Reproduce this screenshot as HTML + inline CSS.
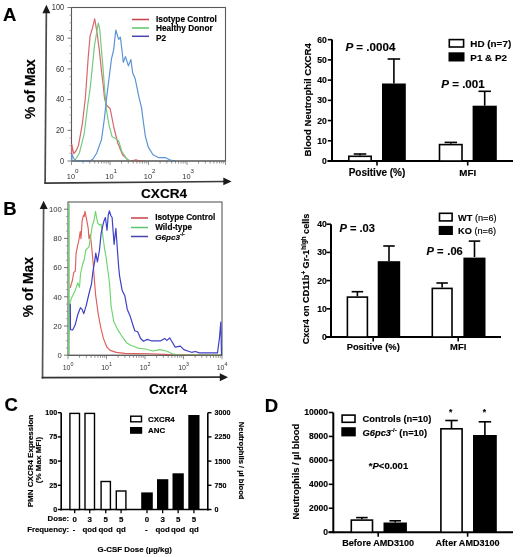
<!DOCTYPE html>
<html><head><meta charset="utf-8"><style>
html,body{margin:0;padding:0;background:#fff;}
svg{display:block;filter:blur(0.3px);}
text{font-family:"Liberation Sans", sans-serif;stroke-width:0.15px;}
</style></head><body>
<svg width="520" height="557" viewBox="0 0 520 557">
<rect width="520" height="557" fill="#fff"/>
<text x="3" y="21.3" font-size="18.5" font-weight="bold" text-anchor="start" fill="#000" stroke="#000">A</text>
<text x="3.3" y="215.3" font-size="18.5" font-weight="bold" text-anchor="start" fill="#000" stroke="#000">B</text>
<text x="4.6" y="411" font-size="18.5" font-weight="bold" text-anchor="start" fill="#000" stroke="#000">C</text>
<text x="264.8" y="411.5" font-size="18.5" font-weight="bold" text-anchor="start" fill="#000" stroke="#000">D</text>
<rect x="71.5" y="7.5" width="154" height="153.5" fill="none" stroke="#5a5a5a" stroke-width="1.1"/>
<line x1="45.1" y1="183.8" x2="46.35" y2="12" stroke="#4a4a4a" stroke-width="1.7" stroke-linecap="butt"/>
<polygon points="46.4,4.8 42.4,13.2 50.4,13.2" fill="#1a1a1a"/>
<line x1="44.3" y1="183.1" x2="225" y2="181.5" stroke="#3a3a3a" stroke-width="1.7" stroke-linecap="butt"/>
<polygon points="231.6,181.4 223.3,177.5 223.3,185.3" fill="#1a1a1a"/>
<line x1="67.5" y1="7.5" x2="71.5" y2="7.5" stroke="#666" stroke-width="0.9" stroke-linecap="butt"/>
<text stroke="none" transform="translate(64.2 10.20) scale(0.86 1)" x="0" y="0" font-size="8.6" text-anchor="end" fill="#333">100</text>
<line x1="69.5" y1="15.175" x2="71.5" y2="15.175" stroke="#888" stroke-width="0.7" stroke-linecap="butt"/>
<line x1="69.5" y1="22.85" x2="71.5" y2="22.85" stroke="#888" stroke-width="0.7" stroke-linecap="butt"/>
<line x1="69.5" y1="30.525" x2="71.5" y2="30.525" stroke="#888" stroke-width="0.7" stroke-linecap="butt"/>
<line x1="67.5" y1="38.2" x2="71.5" y2="38.2" stroke="#666" stroke-width="0.9" stroke-linecap="butt"/>
<text stroke="none" transform="translate(64.2 40.90) scale(0.86 1)" x="0" y="0" font-size="8.6" text-anchor="end" fill="#333">80</text>
<line x1="69.5" y1="45.875" x2="71.5" y2="45.875" stroke="#888" stroke-width="0.7" stroke-linecap="butt"/>
<line x1="69.5" y1="53.550000000000004" x2="71.5" y2="53.550000000000004" stroke="#888" stroke-width="0.7" stroke-linecap="butt"/>
<line x1="69.5" y1="61.225" x2="71.5" y2="61.225" stroke="#888" stroke-width="0.7" stroke-linecap="butt"/>
<line x1="67.5" y1="68.9" x2="71.5" y2="68.9" stroke="#666" stroke-width="0.9" stroke-linecap="butt"/>
<text stroke="none" transform="translate(64.2 71.60) scale(0.86 1)" x="0" y="0" font-size="8.6" text-anchor="end" fill="#333">60</text>
<line x1="69.5" y1="76.575" x2="71.5" y2="76.575" stroke="#888" stroke-width="0.7" stroke-linecap="butt"/>
<line x1="69.5" y1="84.25" x2="71.5" y2="84.25" stroke="#888" stroke-width="0.7" stroke-linecap="butt"/>
<line x1="69.5" y1="91.92500000000001" x2="71.5" y2="91.92500000000001" stroke="#888" stroke-width="0.7" stroke-linecap="butt"/>
<line x1="67.5" y1="99.6" x2="71.5" y2="99.6" stroke="#666" stroke-width="0.9" stroke-linecap="butt"/>
<text stroke="none" transform="translate(64.2 102.30) scale(0.86 1)" x="0" y="0" font-size="8.6" text-anchor="end" fill="#333">40</text>
<line x1="69.5" y1="107.27499999999999" x2="71.5" y2="107.27499999999999" stroke="#888" stroke-width="0.7" stroke-linecap="butt"/>
<line x1="69.5" y1="114.94999999999999" x2="71.5" y2="114.94999999999999" stroke="#888" stroke-width="0.7" stroke-linecap="butt"/>
<line x1="69.5" y1="122.625" x2="71.5" y2="122.625" stroke="#888" stroke-width="0.7" stroke-linecap="butt"/>
<line x1="67.5" y1="130.3" x2="71.5" y2="130.3" stroke="#666" stroke-width="0.9" stroke-linecap="butt"/>
<text stroke="none" transform="translate(64.2 133.00) scale(0.86 1)" x="0" y="0" font-size="8.6" text-anchor="end" fill="#333">20</text>
<line x1="69.5" y1="137.97500000000002" x2="71.5" y2="137.97500000000002" stroke="#888" stroke-width="0.7" stroke-linecap="butt"/>
<line x1="69.5" y1="145.65" x2="71.5" y2="145.65" stroke="#888" stroke-width="0.7" stroke-linecap="butt"/>
<line x1="69.5" y1="153.32500000000002" x2="71.5" y2="153.32500000000002" stroke="#888" stroke-width="0.7" stroke-linecap="butt"/>
<line x1="67.5" y1="161.0" x2="71.5" y2="161.0" stroke="#666" stroke-width="0.9" stroke-linecap="butt"/>
<text stroke="none" transform="translate(64.2 163.70) scale(0.86 1)" x="0" y="0" font-size="8.6" text-anchor="end" fill="#333">0</text>
<line x1="71.5" y1="161" x2="71.5" y2="165" stroke="#777" stroke-width="0.8" stroke-linecap="butt"/>
<line x1="83.08965483306328" y1="161" x2="83.08965483306328" y2="163.5" stroke="#777" stroke-width="0.8" stroke-linecap="butt"/>
<line x1="89.869168306707" y1="161" x2="89.869168306707" y2="163.5" stroke="#777" stroke-width="0.8" stroke-linecap="butt"/>
<line x1="94.67930966612656" y1="161" x2="94.67930966612656" y2="163.5" stroke="#777" stroke-width="0.8" stroke-linecap="butt"/>
<line x1="98.41034516693672" y1="161" x2="98.41034516693672" y2="163.5" stroke="#777" stroke-width="0.8" stroke-linecap="butt"/>
<line x1="101.45882313977029" y1="161" x2="101.45882313977029" y2="163.5" stroke="#777" stroke-width="0.8" stroke-linecap="butt"/>
<line x1="104.03627454054889" y1="161" x2="104.03627454054889" y2="163.5" stroke="#777" stroke-width="0.8" stroke-linecap="butt"/>
<line x1="106.26896449918982" y1="161" x2="106.26896449918982" y2="163.5" stroke="#777" stroke-width="0.8" stroke-linecap="butt"/>
<line x1="108.238336613414" y1="161" x2="108.238336613414" y2="163.5" stroke="#777" stroke-width="0.8" stroke-linecap="butt"/>
<line x1="110.0" y1="161" x2="110.0" y2="165" stroke="#777" stroke-width="0.8" stroke-linecap="butt"/>
<line x1="121.58965483306328" y1="161" x2="121.58965483306328" y2="163.5" stroke="#777" stroke-width="0.8" stroke-linecap="butt"/>
<line x1="128.369168306707" y1="161" x2="128.369168306707" y2="163.5" stroke="#777" stroke-width="0.8" stroke-linecap="butt"/>
<line x1="133.17930966612656" y1="161" x2="133.17930966612656" y2="163.5" stroke="#777" stroke-width="0.8" stroke-linecap="butt"/>
<line x1="136.91034516693674" y1="161" x2="136.91034516693674" y2="163.5" stroke="#777" stroke-width="0.8" stroke-linecap="butt"/>
<line x1="139.9588231397703" y1="161" x2="139.9588231397703" y2="163.5" stroke="#777" stroke-width="0.8" stroke-linecap="butt"/>
<line x1="142.5362745405489" y1="161" x2="142.5362745405489" y2="163.5" stroke="#777" stroke-width="0.8" stroke-linecap="butt"/>
<line x1="144.76896449918982" y1="161" x2="144.76896449918982" y2="163.5" stroke="#777" stroke-width="0.8" stroke-linecap="butt"/>
<line x1="146.738336613414" y1="161" x2="146.738336613414" y2="163.5" stroke="#777" stroke-width="0.8" stroke-linecap="butt"/>
<line x1="148.5" y1="161" x2="148.5" y2="165" stroke="#777" stroke-width="0.8" stroke-linecap="butt"/>
<line x1="160.08965483306326" y1="161" x2="160.08965483306326" y2="163.5" stroke="#777" stroke-width="0.8" stroke-linecap="butt"/>
<line x1="166.86916830670702" y1="161" x2="166.86916830670702" y2="163.5" stroke="#777" stroke-width="0.8" stroke-linecap="butt"/>
<line x1="171.67930966612656" y1="161" x2="171.67930966612656" y2="163.5" stroke="#777" stroke-width="0.8" stroke-linecap="butt"/>
<line x1="175.41034516693674" y1="161" x2="175.41034516693674" y2="163.5" stroke="#777" stroke-width="0.8" stroke-linecap="butt"/>
<line x1="178.4588231397703" y1="161" x2="178.4588231397703" y2="163.5" stroke="#777" stroke-width="0.8" stroke-linecap="butt"/>
<line x1="181.0362745405489" y1="161" x2="181.0362745405489" y2="163.5" stroke="#777" stroke-width="0.8" stroke-linecap="butt"/>
<line x1="183.26896449918985" y1="161" x2="183.26896449918985" y2="163.5" stroke="#777" stroke-width="0.8" stroke-linecap="butt"/>
<line x1="185.238336613414" y1="161" x2="185.238336613414" y2="163.5" stroke="#777" stroke-width="0.8" stroke-linecap="butt"/>
<line x1="187.0" y1="161" x2="187.0" y2="165" stroke="#777" stroke-width="0.8" stroke-linecap="butt"/>
<line x1="198.58965483306326" y1="161" x2="198.58965483306326" y2="163.5" stroke="#777" stroke-width="0.8" stroke-linecap="butt"/>
<line x1="205.36916830670702" y1="161" x2="205.36916830670702" y2="163.5" stroke="#777" stroke-width="0.8" stroke-linecap="butt"/>
<line x1="210.17930966612656" y1="161" x2="210.17930966612656" y2="163.5" stroke="#777" stroke-width="0.8" stroke-linecap="butt"/>
<line x1="213.91034516693674" y1="161" x2="213.91034516693674" y2="163.5" stroke="#777" stroke-width="0.8" stroke-linecap="butt"/>
<line x1="216.9588231397703" y1="161" x2="216.9588231397703" y2="163.5" stroke="#777" stroke-width="0.8" stroke-linecap="butt"/>
<line x1="219.5362745405489" y1="161" x2="219.5362745405489" y2="163.5" stroke="#777" stroke-width="0.8" stroke-linecap="butt"/>
<line x1="221.76896449918985" y1="161" x2="221.76896449918985" y2="163.5" stroke="#777" stroke-width="0.8" stroke-linecap="butt"/>
<line x1="223.738336613414" y1="161" x2="223.738336613414" y2="163.5" stroke="#777" stroke-width="0.8" stroke-linecap="butt"/>
<line x1="225.5" y1="161" x2="225.5" y2="165" stroke="#777" stroke-width="0.8" stroke-linecap="butt"/>
<text stroke="none" x="66.8" y="178.6" font-size="7.4" fill="#333">10<tspan dy="-5.2" font-size="6.2">0</tspan></text>
<text stroke="none" x="105.3" y="178.6" font-size="7.4" fill="#333">10<tspan dy="-5.2" font-size="6.2">1</tspan></text>
<text stroke="none" x="143.8" y="178.6" font-size="7.4" fill="#333">10<tspan dy="-5.2" font-size="6.2">2</tspan></text>
<text stroke="none" x="182.3" y="178.6" font-size="7.4" fill="#333">10<tspan dy="-5.2" font-size="6.2">3</tspan></text>
<text x="141" y="198.2" font-size="13.6" font-weight="bold" text-anchor="start" fill="#000" stroke="#000">CXCR4</text>
<text x="35.2" y="89.1" font-size="13.8" font-weight="bold" text-anchor="middle" fill="#000" stroke="#000" transform="rotate(-90 35.2 89.1)">% of Max</text>
<line x1="132" y1="19.5" x2="149" y2="19.5" stroke="#c8404a" stroke-width="1.5" stroke-linecap="butt"/>
<line x1="132" y1="28" x2="149" y2="28" stroke="#5cc46c" stroke-width="1.5" stroke-linecap="butt"/>
<line x1="132" y1="36.3" x2="149" y2="36.3" stroke="#4444aa" stroke-width="1.5" stroke-linecap="butt"/>
<text x="156" y="21.6" font-size="8.3" font-weight="bold" text-anchor="start" fill="#000" stroke="#000">Isotype Control</text>
<text x="156" y="31.0" font-size="8.3" font-weight="bold" text-anchor="start" fill="#000" stroke="#000">Healthy Donor</text>
<text x="156" y="40.7" font-size="8.3" font-weight="bold" text-anchor="start" fill="#000" stroke="#000">P2</text>
<polyline points="71.7,161.0 71.8,144.4 73.7,153.7 76.0,151.0 78.5,145.4 82.3,124.2 85.2,99.2 86.0,89.0 88.2,57.5 90.1,35.9 92.3,28.7 94.7,18.9 95.9,25.8 97.3,34.5 99.5,51.7 101.6,71.9 103.3,86.0 104.5,98.0 106.3,105.0 110.2,108.8 114.0,128.0 117.9,143.5 122.7,155.0 128.5,160.4 133.0,160.6 136.0,159.8 139.0,160.8 145.0,161.0" fill="none" stroke="#d9666c" stroke-width="1.2" stroke-linejoin="round" stroke-linecap="round"/>
<polyline points="74.6,161.0 79.4,153.0 84.2,133.8 88.0,103.0 90.1,89.1 92.3,67.6 94.4,46.0 96.6,33.0 98.3,23.0 99.7,28.7 100.9,43.1 103.0,67.6 104.3,85.0 106.3,108.8 109.2,126.0 112.1,136.7 116.0,138.7 118.8,141.5 121.7,151.0 126.5,158.8 130.4,161.0" fill="none" stroke="#74cc80" stroke-width="1.2" stroke-linejoin="round" stroke-linecap="round"/>
<polyline points="71.6,161.0 71.8,154.0 73.5,158.0 75.6,161.0 90.0,161.0 93.0,159.0 96.7,153.0 101.5,139.6 104.4,118.5 106.5,99.0 108.6,81.7 111.5,58.8 113.6,50.1 115.8,30.0 118.7,39.4 120.4,37.2 121.8,48.7 123.3,62.3 125.5,56.6 128.4,65.9 130.9,59.5 132.7,73.1 135.2,78.8 139.0,97.3 141.5,107.7 143.5,123.0 145.4,136.5 148.3,147.1 153.0,154.8 158.8,157.7 165.6,157.7 170.4,160.0 175.2,161.0" fill="none" stroke="#5a94d6" stroke-width="1.2" stroke-linejoin="round" stroke-linecap="round"/>
<line x1="71.5" y1="161" x2="225.5" y2="161" stroke="#5a5a5a" stroke-width="1.0" stroke-linecap="butt"/>
<rect x="68" y="202" width="154" height="153.3" fill="none" stroke="#5a5a5a" stroke-width="1.1"/>
<line x1="42.5" y1="378.5" x2="43.6" y2="207" stroke="#555" stroke-width="1.7" stroke-linecap="butt"/>
<polygon points="43.6,200.8 39.7,209 47.7,209" fill="#1a1a1a"/>
<line x1="41.7" y1="377.7" x2="221" y2="377.1" stroke="#333" stroke-width="1.8" stroke-linecap="butt"/>
<polygon points="228,377.2 219.8,373.2 219.8,381.2" fill="#1a1a1a"/>
<line x1="64" y1="209.2" x2="68" y2="209.2" stroke="#666" stroke-width="0.9" stroke-linecap="butt"/>
<text x="61.8" y="211.89999999999998" font-size="7.7" font-weight="normal" text-anchor="end" fill="#333" stroke="none">100</text>
<line x1="66" y1="216.5" x2="68" y2="216.5" stroke="#888" stroke-width="0.7" stroke-linecap="butt"/>
<line x1="66" y1="223.79999999999998" x2="68" y2="223.79999999999998" stroke="#888" stroke-width="0.7" stroke-linecap="butt"/>
<line x1="66" y1="231.1" x2="68" y2="231.1" stroke="#888" stroke-width="0.7" stroke-linecap="butt"/>
<line x1="64" y1="238.39999999999998" x2="68" y2="238.39999999999998" stroke="#666" stroke-width="0.9" stroke-linecap="butt"/>
<text x="61.8" y="241.09999999999997" font-size="7.7" font-weight="normal" text-anchor="end" fill="#333" stroke="none">80</text>
<line x1="66" y1="245.7" x2="68" y2="245.7" stroke="#888" stroke-width="0.7" stroke-linecap="butt"/>
<line x1="66" y1="252.99999999999997" x2="68" y2="252.99999999999997" stroke="#888" stroke-width="0.7" stroke-linecap="butt"/>
<line x1="66" y1="260.29999999999995" x2="68" y2="260.29999999999995" stroke="#888" stroke-width="0.7" stroke-linecap="butt"/>
<line x1="64" y1="267.59999999999997" x2="68" y2="267.59999999999997" stroke="#666" stroke-width="0.9" stroke-linecap="butt"/>
<text x="61.8" y="270.29999999999995" font-size="7.7" font-weight="normal" text-anchor="end" fill="#333" stroke="none">60</text>
<line x1="66" y1="274.9" x2="68" y2="274.9" stroke="#888" stroke-width="0.7" stroke-linecap="butt"/>
<line x1="66" y1="282.2" x2="68" y2="282.2" stroke="#888" stroke-width="0.7" stroke-linecap="butt"/>
<line x1="66" y1="289.49999999999994" x2="68" y2="289.49999999999994" stroke="#888" stroke-width="0.7" stroke-linecap="butt"/>
<line x1="64" y1="296.79999999999995" x2="68" y2="296.79999999999995" stroke="#666" stroke-width="0.9" stroke-linecap="butt"/>
<text x="61.8" y="299.49999999999994" font-size="7.7" font-weight="normal" text-anchor="end" fill="#333" stroke="none">40</text>
<line x1="66" y1="304.09999999999997" x2="68" y2="304.09999999999997" stroke="#888" stroke-width="0.7" stroke-linecap="butt"/>
<line x1="66" y1="311.4" x2="68" y2="311.4" stroke="#888" stroke-width="0.7" stroke-linecap="butt"/>
<line x1="66" y1="318.69999999999993" x2="68" y2="318.69999999999993" stroke="#888" stroke-width="0.7" stroke-linecap="butt"/>
<line x1="64" y1="326.0" x2="68" y2="326.0" stroke="#666" stroke-width="0.9" stroke-linecap="butt"/>
<text x="61.8" y="328.7" font-size="7.7" font-weight="normal" text-anchor="end" fill="#333" stroke="none">20</text>
<line x1="66" y1="333.3" x2="68" y2="333.3" stroke="#888" stroke-width="0.7" stroke-linecap="butt"/>
<line x1="66" y1="340.6" x2="68" y2="340.6" stroke="#888" stroke-width="0.7" stroke-linecap="butt"/>
<line x1="66" y1="347.9" x2="68" y2="347.9" stroke="#888" stroke-width="0.7" stroke-linecap="butt"/>
<line x1="64" y1="355.2" x2="68" y2="355.2" stroke="#666" stroke-width="0.9" stroke-linecap="butt"/>
<text x="61.8" y="357.9" font-size="7.7" font-weight="normal" text-anchor="end" fill="#333" stroke="none">0</text>
<line x1="68.0" y1="355.3" x2="68.0" y2="359.3" stroke="#777" stroke-width="0.8" stroke-linecap="butt"/>
<line x1="79.58965483306328" y1="355.3" x2="79.58965483306328" y2="357.8" stroke="#777" stroke-width="0.8" stroke-linecap="butt"/>
<line x1="86.369168306707" y1="355.3" x2="86.369168306707" y2="357.8" stroke="#777" stroke-width="0.8" stroke-linecap="butt"/>
<line x1="91.17930966612656" y1="355.3" x2="91.17930966612656" y2="357.8" stroke="#777" stroke-width="0.8" stroke-linecap="butt"/>
<line x1="94.91034516693672" y1="355.3" x2="94.91034516693672" y2="357.8" stroke="#777" stroke-width="0.8" stroke-linecap="butt"/>
<line x1="97.95882313977029" y1="355.3" x2="97.95882313977029" y2="357.8" stroke="#777" stroke-width="0.8" stroke-linecap="butt"/>
<line x1="100.53627454054889" y1="355.3" x2="100.53627454054889" y2="357.8" stroke="#777" stroke-width="0.8" stroke-linecap="butt"/>
<line x1="102.76896449918982" y1="355.3" x2="102.76896449918982" y2="357.8" stroke="#777" stroke-width="0.8" stroke-linecap="butt"/>
<line x1="104.738336613414" y1="355.3" x2="104.738336613414" y2="357.8" stroke="#777" stroke-width="0.8" stroke-linecap="butt"/>
<line x1="106.5" y1="355.3" x2="106.5" y2="359.3" stroke="#777" stroke-width="0.8" stroke-linecap="butt"/>
<line x1="118.08965483306328" y1="355.3" x2="118.08965483306328" y2="357.8" stroke="#777" stroke-width="0.8" stroke-linecap="butt"/>
<line x1="124.869168306707" y1="355.3" x2="124.869168306707" y2="357.8" stroke="#777" stroke-width="0.8" stroke-linecap="butt"/>
<line x1="129.67930966612656" y1="355.3" x2="129.67930966612656" y2="357.8" stroke="#777" stroke-width="0.8" stroke-linecap="butt"/>
<line x1="133.41034516693674" y1="355.3" x2="133.41034516693674" y2="357.8" stroke="#777" stroke-width="0.8" stroke-linecap="butt"/>
<line x1="136.4588231397703" y1="355.3" x2="136.4588231397703" y2="357.8" stroke="#777" stroke-width="0.8" stroke-linecap="butt"/>
<line x1="139.0362745405489" y1="355.3" x2="139.0362745405489" y2="357.8" stroke="#777" stroke-width="0.8" stroke-linecap="butt"/>
<line x1="141.26896449918982" y1="355.3" x2="141.26896449918982" y2="357.8" stroke="#777" stroke-width="0.8" stroke-linecap="butt"/>
<line x1="143.238336613414" y1="355.3" x2="143.238336613414" y2="357.8" stroke="#777" stroke-width="0.8" stroke-linecap="butt"/>
<line x1="145.0" y1="355.3" x2="145.0" y2="359.3" stroke="#777" stroke-width="0.8" stroke-linecap="butt"/>
<line x1="156.58965483306326" y1="355.3" x2="156.58965483306326" y2="357.8" stroke="#777" stroke-width="0.8" stroke-linecap="butt"/>
<line x1="163.36916830670702" y1="355.3" x2="163.36916830670702" y2="357.8" stroke="#777" stroke-width="0.8" stroke-linecap="butt"/>
<line x1="168.17930966612656" y1="355.3" x2="168.17930966612656" y2="357.8" stroke="#777" stroke-width="0.8" stroke-linecap="butt"/>
<line x1="171.91034516693674" y1="355.3" x2="171.91034516693674" y2="357.8" stroke="#777" stroke-width="0.8" stroke-linecap="butt"/>
<line x1="174.9588231397703" y1="355.3" x2="174.9588231397703" y2="357.8" stroke="#777" stroke-width="0.8" stroke-linecap="butt"/>
<line x1="177.5362745405489" y1="355.3" x2="177.5362745405489" y2="357.8" stroke="#777" stroke-width="0.8" stroke-linecap="butt"/>
<line x1="179.76896449918985" y1="355.3" x2="179.76896449918985" y2="357.8" stroke="#777" stroke-width="0.8" stroke-linecap="butt"/>
<line x1="181.738336613414" y1="355.3" x2="181.738336613414" y2="357.8" stroke="#777" stroke-width="0.8" stroke-linecap="butt"/>
<line x1="183.5" y1="355.3" x2="183.5" y2="359.3" stroke="#777" stroke-width="0.8" stroke-linecap="butt"/>
<line x1="195.08965483306326" y1="355.3" x2="195.08965483306326" y2="357.8" stroke="#777" stroke-width="0.8" stroke-linecap="butt"/>
<line x1="201.86916830670702" y1="355.3" x2="201.86916830670702" y2="357.8" stroke="#777" stroke-width="0.8" stroke-linecap="butt"/>
<line x1="206.67930966612656" y1="355.3" x2="206.67930966612656" y2="357.8" stroke="#777" stroke-width="0.8" stroke-linecap="butt"/>
<line x1="210.41034516693674" y1="355.3" x2="210.41034516693674" y2="357.8" stroke="#777" stroke-width="0.8" stroke-linecap="butt"/>
<line x1="213.4588231397703" y1="355.3" x2="213.4588231397703" y2="357.8" stroke="#777" stroke-width="0.8" stroke-linecap="butt"/>
<line x1="216.0362745405489" y1="355.3" x2="216.0362745405489" y2="357.8" stroke="#777" stroke-width="0.8" stroke-linecap="butt"/>
<line x1="218.26896449918985" y1="355.3" x2="218.26896449918985" y2="357.8" stroke="#777" stroke-width="0.8" stroke-linecap="butt"/>
<line x1="220.238336613414" y1="355.3" x2="220.238336613414" y2="357.8" stroke="#777" stroke-width="0.8" stroke-linecap="butt"/>
<line x1="222.0" y1="355.3" x2="222.0" y2="359.3" stroke="#777" stroke-width="0.8" stroke-linecap="butt"/>
<text stroke="none" x="62.7" y="370.3" font-size="7.0" fill="#333">10<tspan dy="-4.4" font-size="5.3">0</tspan></text>
<text stroke="none" x="101.2" y="370.3" font-size="7.0" fill="#333">10<tspan dy="-4.4" font-size="5.3">1</tspan></text>
<text stroke="none" x="139.7" y="370.3" font-size="7.0" fill="#333">10<tspan dy="-4.4" font-size="5.3">2</tspan></text>
<text stroke="none" x="178.2" y="370.3" font-size="7.0" fill="#333">10<tspan dy="-4.4" font-size="5.3">3</tspan></text>
<text stroke="none" x="216.7" y="370.3" font-size="7.0" fill="#333">10<tspan dy="-4.4" font-size="5.3">4</tspan></text>
<text x="148.9" y="394.0" font-size="13.8" font-weight="bold" text-anchor="start" fill="#000" stroke="#000">Cxcr4</text>
<text x="32.8" y="287.1" font-size="13.9" font-weight="bold" text-anchor="middle" fill="#000" stroke="#000" transform="rotate(-90 32.8 287.1)">% of Max</text>
<line x1="131" y1="218" x2="148" y2="218" stroke="#c8404a" stroke-width="1.5" stroke-linecap="butt"/>
<line x1="131" y1="227.5" x2="148" y2="227.5" stroke="#5cc46c" stroke-width="1.5" stroke-linecap="butt"/>
<line x1="131" y1="236.5" x2="148" y2="236.5" stroke="#4444aa" stroke-width="1.5" stroke-linecap="butt"/>
<text x="155.2" y="220.4" font-size="8.2" font-weight="bold" text-anchor="start" fill="#000" stroke="#000">Isotype Control</text>
<text x="155.2" y="230.0" font-size="8.2" font-weight="bold" text-anchor="start" fill="#000" stroke="#000">Wild-type</text>
<text stroke="#000" x="155.2" y="239.6" font-size="8.1" font-weight="bold" font-style="italic">G6pc3<tspan dy="-3.2" font-size="5.2" font-style="normal">-/-</tspan></text>
<polyline points="70.3,287.5 72.5,280.0 73.7,272.6 75.3,271.0 76.1,253.2 77.4,246.8 79.0,239.5 80.2,231.5 81.0,238.7 82.1,221.0 83.4,215.3 84.2,216.5 85.0,211.3 86.6,219.4 88.2,228.2 89.0,238.7 90.3,234.7 91.5,245.2 93.0,261.3 94.7,283.9 95.7,295.7 98.3,314.5 100.9,328.2 103.4,338.4 106.8,347.0 110.2,350.4 116.2,352.4 124.8,353.4 135.0,353.6 150.0,353.8 170.0,354.6 221.0,355.0" fill="none" stroke="#de5e5e" stroke-width="1.15" stroke-linejoin="round" stroke-linecap="round"/>
<polyline points="69.2,204.0 69.2,355.0 69.5,304.0 71.8,297.4 75.2,290.6 77.8,282.9 79.5,287.2 80.5,274.0 82.6,264.5 84.2,259.7 85.8,250.0 87.4,248.4 89.0,246.8 90.6,237.0 92.3,225.8 93.9,221.0 95.5,211.3 96.6,217.5 97.7,222.9 99.3,224.9 101.1,224.2 102.7,235.0 104.7,249.8 106.0,256.5 107.8,270.0 109.4,282.1 111.1,306.0 113.7,321.3 117.9,329.9 122.2,336.7 126.5,342.7 130.7,345.2 133.8,346.2 137.7,348.1 145.4,349.0 153.0,351.0 159.8,349.6 166.5,351.0 172.3,353.8 178.0,354.8 221.0,355.0" fill="none" stroke="#6cd66c" stroke-width="1.15" stroke-linejoin="round" stroke-linecap="round"/>
<polyline points="70.3,304.0 70.5,329.7 72.7,329.9 75.2,324.8 77.8,314.5 80.4,307.7 82.1,309.4 83.8,313.7 86.3,305.1 88.9,294.0 91.5,283.8 93.0,271.0 94.7,261.3 95.8,253.2 97.4,262.0 99.5,250.0 101.1,233.6 102.7,226.2 104.0,220.9 105.4,217.5 107.0,230.3 108.3,214.8 109.4,210.8 110.8,215.5 112.1,217.5 114.1,244.4 115.9,228.3 117.5,251.1 118.8,268.6 119.6,276.1 122.2,290.6 124.8,295.7 127.3,309.4 129.9,315.4 132.9,325.0 134.8,330.8 137.7,331.7 140.6,338.5 143.5,341.3 147.3,339.4 151.2,340.8 155.0,340.8 160.8,340.8 164.6,338.5 166.9,340.4 169.8,338.0 172.3,342.3 175.2,347.1 180.4,346.2 183.8,349.6 187.7,351.0 191.5,352.3 195.4,351.5 199.2,352.9 217.5,352.9 219.4,338.5 220.8,322.1 221.5,354.8" fill="none" stroke="#4040c8" stroke-width="1.2" stroke-linejoin="round" stroke-linecap="round"/>
<line x1="68" y1="355.3" x2="222" y2="355.3" stroke="#5a5a5a" stroke-width="1.0" stroke-linecap="butt"/>
<line x1="332" y1="39.5" x2="332" y2="162" stroke="#000" stroke-width="2" stroke-linecap="butt"/>
<line x1="327.8" y1="161.0" x2="332" y2="161.0" stroke="#000" stroke-width="1.6" stroke-linecap="butt"/>
<text x="326.8" y="164.1" font-size="8.6" font-weight="bold" text-anchor="end" fill="#000" stroke="#000">0</text>
<line x1="327.8" y1="140.78" x2="332" y2="140.78" stroke="#000" stroke-width="1.6" stroke-linecap="butt"/>
<text x="326.8" y="143.88" font-size="8.6" font-weight="bold" text-anchor="end" fill="#000" stroke="#000">10</text>
<line x1="327.8" y1="120.56" x2="332" y2="120.56" stroke="#000" stroke-width="1.6" stroke-linecap="butt"/>
<text x="326.8" y="123.66" font-size="8.6" font-weight="bold" text-anchor="end" fill="#000" stroke="#000">20</text>
<line x1="327.8" y1="100.34" x2="332" y2="100.34" stroke="#000" stroke-width="1.6" stroke-linecap="butt"/>
<text x="326.8" y="103.44" font-size="8.6" font-weight="bold" text-anchor="end" fill="#000" stroke="#000">30</text>
<line x1="327.8" y1="80.12" x2="332" y2="80.12" stroke="#000" stroke-width="1.6" stroke-linecap="butt"/>
<text x="326.8" y="83.22" font-size="8.6" font-weight="bold" text-anchor="end" fill="#000" stroke="#000">40</text>
<line x1="327.8" y1="59.900000000000006" x2="332" y2="59.900000000000006" stroke="#000" stroke-width="1.6" stroke-linecap="butt"/>
<text x="326.8" y="63.00000000000001" font-size="8.6" font-weight="bold" text-anchor="end" fill="#000" stroke="#000">50</text>
<line x1="327.8" y1="39.68000000000001" x2="332" y2="39.68000000000001" stroke="#000" stroke-width="1.6" stroke-linecap="butt"/>
<text x="326.8" y="42.78000000000001" font-size="8.6" font-weight="bold" text-anchor="end" fill="#000" stroke="#000">60</text>
<line x1="327.5" y1="161" x2="513" y2="161" stroke="#000" stroke-width="2" stroke-linecap="butt"/>
<line x1="377" y1="161" x2="377" y2="165.5" stroke="#000" stroke-width="1.6" stroke-linecap="butt"/>
<line x1="467.7" y1="161" x2="467.7" y2="165.5" stroke="#000" stroke-width="1.6" stroke-linecap="butt"/>
<line x1="360" y1="155.5" x2="360" y2="154.0" stroke="#000" stroke-width="1.6" stroke-linecap="butt"/>
<line x1="353.75" y1="154.0" x2="366.25" y2="154.0" stroke="#000" stroke-width="1.6" stroke-linecap="butt"/>
<rect x="348.8" y="156.3" width="22.4" height="4.7" fill="#fff" stroke="#000" stroke-width="1.6"/>
<line x1="393.9" y1="83.5" x2="393.9" y2="59" stroke="#000" stroke-width="1.6" stroke-linecap="butt"/>
<line x1="387.65" y1="59" x2="400.15" y2="59" stroke="#000" stroke-width="1.6" stroke-linecap="butt"/>
<rect x="382" y="83.5" width="23.80000000000001" height="77.5" fill="#000" stroke="none" stroke-width="1"/>
<line x1="450.8" y1="143.8" x2="450.8" y2="142.4" stroke="#000" stroke-width="1.6" stroke-linecap="butt"/>
<line x1="444.55" y1="142.4" x2="457.05" y2="142.4" stroke="#000" stroke-width="1.6" stroke-linecap="butt"/>
<rect x="439.5" y="144.60000000000002" width="22.50000000000002" height="16.399999999999988" fill="#fff" stroke="#000" stroke-width="1.6"/>
<line x1="484.7" y1="105.7" x2="484.7" y2="91.3" stroke="#000" stroke-width="1.6" stroke-linecap="butt"/>
<line x1="478.45" y1="91.3" x2="490.95" y2="91.3" stroke="#000" stroke-width="1.6" stroke-linecap="butt"/>
<rect x="472.6" y="105.7" width="24.19999999999999" height="55.3" fill="#000" stroke="none" stroke-width="1"/>
<text stroke="#000" x="345.4" y="51.2" font-size="11.6" font-weight="bold"><tspan font-style="italic">P</tspan> = .0004</text>
<text stroke="#000" x="441.2" y="87.9" font-size="11.6" font-weight="bold"><tspan font-style="italic">P</tspan> = .001</text>
<rect x="449.3" y="39.6" width="14.3" height="7.4" fill="#fff" stroke="#000" stroke-width="1.6"/>
<rect x="448.5" y="52.3" width="16" height="9.2" fill="#000" stroke="none" stroke-width="1"/>
<text x="470.3" y="47.3" font-size="9.9" font-weight="bold" text-anchor="start" fill="#000" stroke="#000">HD (n=7)</text>
<text x="470.3" y="60.5" font-size="9.9" font-weight="bold" text-anchor="start" fill="#000" stroke="#000">P1 &amp; P2</text>
<text x="377" y="175.6" font-size="10" font-weight="bold" text-anchor="middle" fill="#000" stroke="#000">Positive (%)</text>
<text x="467.7" y="175.6" font-size="9.8" font-weight="bold" text-anchor="middle" fill="#000" stroke="#000">MFI</text>
<text x="310.7" y="99.8" font-size="9.65" font-weight="bold" text-anchor="middle" fill="#000" stroke="#000" transform="rotate(-90 310.7 99.8)">Blood Neutrophil CXCR4</text>
<line x1="331" y1="224.2" x2="331" y2="338" stroke="#000" stroke-width="2" stroke-linecap="butt"/>
<line x1="326.5" y1="337.0" x2="331" y2="337.0" stroke="#000" stroke-width="1.6" stroke-linecap="butt"/>
<text x="326.7" y="340.0" font-size="8.6" font-weight="bold" text-anchor="end" fill="#000" stroke="#000">0</text>
<line x1="326.5" y1="308.8" x2="331" y2="308.8" stroke="#000" stroke-width="1.6" stroke-linecap="butt"/>
<text x="326.7" y="311.8" font-size="8.6" font-weight="bold" text-anchor="end" fill="#000" stroke="#000">10</text>
<line x1="326.5" y1="280.6" x2="331" y2="280.6" stroke="#000" stroke-width="1.6" stroke-linecap="butt"/>
<text x="326.7" y="283.6" font-size="8.6" font-weight="bold" text-anchor="end" fill="#000" stroke="#000">20</text>
<line x1="326.5" y1="252.4" x2="331" y2="252.4" stroke="#000" stroke-width="1.6" stroke-linecap="butt"/>
<text x="326.7" y="255.4" font-size="8.6" font-weight="bold" text-anchor="end" fill="#000" stroke="#000">30</text>
<line x1="326.5" y1="224.2" x2="331" y2="224.2" stroke="#000" stroke-width="1.6" stroke-linecap="butt"/>
<text x="326.7" y="227.2" font-size="8.6" font-weight="bold" text-anchor="end" fill="#000" stroke="#000">40</text>
<line x1="326" y1="337" x2="501" y2="337" stroke="#000" stroke-width="2" stroke-linecap="butt"/>
<line x1="373.2" y1="337" x2="373.2" y2="341.5" stroke="#000" stroke-width="1.6" stroke-linecap="butt"/>
<line x1="458.2" y1="337" x2="458.2" y2="341.5" stroke="#000" stroke-width="1.6" stroke-linecap="butt"/>
<line x1="357.4" y1="296.3" x2="357.4" y2="291.7" stroke="#000" stroke-width="1.6" stroke-linecap="butt"/>
<line x1="351.65" y1="291.7" x2="363.15" y2="291.7" stroke="#000" stroke-width="1.6" stroke-linecap="butt"/>
<rect x="347.40000000000003" y="297.1" width="19.999999999999964" height="39.89999999999999" fill="#fff" stroke="#000" stroke-width="1.6"/>
<line x1="389" y1="261.2" x2="389" y2="246" stroke="#000" stroke-width="1.6" stroke-linecap="butt"/>
<line x1="383.25" y1="246" x2="394.75" y2="246" stroke="#000" stroke-width="1.6" stroke-linecap="butt"/>
<rect x="377.7" y="261.2" width="22.5" height="75.80000000000001" fill="#000" stroke="none" stroke-width="1"/>
<line x1="442.1" y1="287.6" x2="442.1" y2="283" stroke="#000" stroke-width="1.6" stroke-linecap="butt"/>
<line x1="436.35" y1="283" x2="447.85" y2="283" stroke="#000" stroke-width="1.6" stroke-linecap="butt"/>
<rect x="432.3" y="288.40000000000003" width="19.70000000000001" height="48.59999999999998" fill="#fff" stroke="#000" stroke-width="1.6"/>
<line x1="474.5" y1="257" x2="474.5" y2="241.1" stroke="#000" stroke-width="1.6" stroke-linecap="butt"/>
<line x1="468.75" y1="241.1" x2="480.25" y2="241.1" stroke="#000" stroke-width="1.6" stroke-linecap="butt"/>
<rect x="463.4" y="257.6" width="22.100000000000023" height="79.39999999999998" fill="#000" stroke="none" stroke-width="1"/>
<text stroke="#000" x="339.4" y="231.9" font-size="11.1" font-weight="bold"><tspan font-style="italic">P</tspan> = .03</text>
<text stroke="#000" x="426.4" y="254.8" font-size="11.1" font-weight="bold"><tspan font-style="italic">P</tspan> =&#8202; .06</text>
<rect x="439.5" y="213.3" width="12.6" height="7.6" fill="#fff" stroke="#000" stroke-width="1.6"/>
<rect x="438.7" y="225.9" width="14.2" height="9.1" fill="#000" stroke="none" stroke-width="1"/>
<text stroke="#000" x="458.1" y="220.7" font-size="9.2" font-weight="bold">WT <tspan font-weight="normal">(n=6)</tspan></text>
<text stroke="#000" x="458.1" y="233.9" font-size="9.2" font-weight="bold">KO <tspan font-weight="normal">(n=6)</tspan></text>
<text x="373.2" y="350.3" font-size="9.4" font-weight="bold" text-anchor="middle" fill="#000" stroke="#000">Positive (%)</text>
<text x="458.2" y="350.3" font-size="9.4" font-weight="bold" text-anchor="middle" fill="#000" stroke="#000">MFI</text>
<text stroke="#000" transform="rotate(-90 309.2 279)" x="309.2" y="279" font-size="9.1" font-weight="bold" text-anchor="middle">Cxcr4 on CD11b<tspan dy="-3" font-size="6.3">+</tspan><tspan dy="3"> Gr-1</tspan><tspan dy="-3" font-size="6.3">high</tspan><tspan dy="3"> cells</tspan></text>
<line x1="61.2" y1="412.7" x2="61.2" y2="510.5" stroke="#000" stroke-width="1.6" stroke-linecap="butt"/>
<line x1="57.8" y1="509.5" x2="61.2" y2="509.5" stroke="#000" stroke-width="1.4" stroke-linecap="butt"/>
<text x="57.2" y="512.0" font-size="7.1" font-weight="bold" text-anchor="end" fill="#000" stroke="#000">0</text>
<line x1="57.8" y1="485.3" x2="61.2" y2="485.3" stroke="#000" stroke-width="1.4" stroke-linecap="butt"/>
<text x="57.2" y="487.8" font-size="7.1" font-weight="bold" text-anchor="end" fill="#000" stroke="#000">25</text>
<line x1="57.8" y1="461.1" x2="61.2" y2="461.1" stroke="#000" stroke-width="1.4" stroke-linecap="butt"/>
<text x="57.2" y="463.6" font-size="7.1" font-weight="bold" text-anchor="end" fill="#000" stroke="#000">50</text>
<line x1="57.8" y1="436.9" x2="61.2" y2="436.9" stroke="#000" stroke-width="1.4" stroke-linecap="butt"/>
<text x="57.2" y="439.4" font-size="7.1" font-weight="bold" text-anchor="end" fill="#000" stroke="#000">75</text>
<line x1="57.8" y1="412.7" x2="61.2" y2="412.7" stroke="#000" stroke-width="1.4" stroke-linecap="butt"/>
<text x="57.2" y="415.2" font-size="7.1" font-weight="bold" text-anchor="end" fill="#000" stroke="#000">100</text>
<line x1="207.8" y1="412.7" x2="207.8" y2="510.5" stroke="#000" stroke-width="1.6" stroke-linecap="butt"/>
<line x1="207.8" y1="509.5" x2="211.5" y2="509.5" stroke="#000" stroke-width="1.4" stroke-linecap="butt"/>
<text x="214.6" y="512.0" font-size="7.1" font-weight="bold" text-anchor="start" fill="#000" stroke="#000">0</text>
<line x1="207.8" y1="485.3" x2="211.5" y2="485.3" stroke="#000" stroke-width="1.4" stroke-linecap="butt"/>
<text x="214.6" y="487.8" font-size="7.1" font-weight="bold" text-anchor="start" fill="#000" stroke="#000">750</text>
<line x1="207.8" y1="461.1" x2="211.5" y2="461.1" stroke="#000" stroke-width="1.4" stroke-linecap="butt"/>
<text x="214.6" y="463.6" font-size="7.1" font-weight="bold" text-anchor="start" fill="#000" stroke="#000">1500</text>
<line x1="207.8" y1="436.9" x2="211.5" y2="436.9" stroke="#000" stroke-width="1.4" stroke-linecap="butt"/>
<text x="214.6" y="439.4" font-size="7.1" font-weight="bold" text-anchor="start" fill="#000" stroke="#000">2250</text>
<line x1="207.8" y1="412.7" x2="211.5" y2="412.7" stroke="#000" stroke-width="1.4" stroke-linecap="butt"/>
<text x="214.6" y="415.2" font-size="7.1" font-weight="bold" text-anchor="start" fill="#000" stroke="#000">3000</text>
<line x1="60.4" y1="509.5" x2="208.6" y2="509.5" stroke="#000" stroke-width="1.6" stroke-linecap="butt"/>
<rect x="69.9" y="413.4" width="9.6" height="96.10000000000001" fill="#fff" stroke="#000" stroke-width="1.4"/>
<line x1="74.7" y1="509.5" x2="74.7" y2="513.3" stroke="#000" stroke-width="1.3" stroke-linecap="butt"/>
<rect x="85.0" y="413.4" width="9.500000000000005" height="96.10000000000001" fill="#fff" stroke="#000" stroke-width="1.4"/>
<line x1="89.75" y1="509.5" x2="89.75" y2="513.3" stroke="#000" stroke-width="1.3" stroke-linecap="butt"/>
<rect x="101.10000000000001" y="481.5" width="9.299999999999988" height="27.99999999999999" fill="#fff" stroke="#000" stroke-width="1.4"/>
<line x1="105.75" y1="509.5" x2="105.75" y2="513.3" stroke="#000" stroke-width="1.3" stroke-linecap="butt"/>
<rect x="116.3" y="491.0" width="9.6" height="18.49999999999999" fill="#fff" stroke="#000" stroke-width="1.4"/>
<line x1="121.1" y1="509.5" x2="121.1" y2="513.3" stroke="#000" stroke-width="1.3" stroke-linecap="butt"/>
<rect x="141.2" y="492.4" width="11.600000000000023" height="17.100000000000023" fill="#000" stroke="none" stroke-width="1"/>
<line x1="147.0" y1="509.5" x2="147.0" y2="513.3" stroke="#000" stroke-width="1.3" stroke-linecap="butt"/>
<rect x="157" y="479.2" width="11.300000000000011" height="30.30000000000001" fill="#000" stroke="none" stroke-width="1"/>
<line x1="162.65" y1="509.5" x2="162.65" y2="513.3" stroke="#000" stroke-width="1.3" stroke-linecap="butt"/>
<rect x="172.5" y="473.3" width="11.300000000000011" height="36.19999999999999" fill="#000" stroke="none" stroke-width="1"/>
<line x1="178.15" y1="509.5" x2="178.15" y2="513.3" stroke="#000" stroke-width="1.3" stroke-linecap="butt"/>
<rect x="188.3" y="415" width="11.199999999999989" height="94.5" fill="#000" stroke="none" stroke-width="1"/>
<line x1="193.9" y1="509.5" x2="193.9" y2="513.3" stroke="#000" stroke-width="1.3" stroke-linecap="butt"/>
<text x="74.7" y="521.6" font-size="7.9" font-weight="bold" text-anchor="middle" fill="#000" stroke="#000">0</text>
<text x="74.10000000000001" y="532.4" font-size="7.8" font-weight="bold" text-anchor="middle" fill="#000" stroke="#000">-</text>
<text x="89.75" y="521.6" font-size="7.9" font-weight="bold" text-anchor="middle" fill="#000" stroke="#000">3</text>
<text x="89.75" y="532.4" font-size="7.8" font-weight="bold" text-anchor="middle" fill="#000" stroke="#000">qod</text>
<text x="105.75" y="521.6" font-size="7.9" font-weight="bold" text-anchor="middle" fill="#000" stroke="#000">5</text>
<text x="105.75" y="532.4" font-size="7.8" font-weight="bold" text-anchor="middle" fill="#000" stroke="#000">qod</text>
<text x="121.1" y="521.6" font-size="7.9" font-weight="bold" text-anchor="middle" fill="#000" stroke="#000">5</text>
<text x="121.1" y="532.4" font-size="7.8" font-weight="bold" text-anchor="middle" fill="#000" stroke="#000">qd</text>
<text x="147.0" y="521.6" font-size="7.9" font-weight="bold" text-anchor="middle" fill="#000" stroke="#000">0</text>
<text x="146.4" y="532.4" font-size="7.8" font-weight="bold" text-anchor="middle" fill="#000" stroke="#000">-</text>
<text x="162.65" y="521.6" font-size="7.9" font-weight="bold" text-anchor="middle" fill="#000" stroke="#000">3</text>
<text x="162.65" y="532.4" font-size="7.8" font-weight="bold" text-anchor="middle" fill="#000" stroke="#000">qod</text>
<text x="178.15" y="521.6" font-size="7.9" font-weight="bold" text-anchor="middle" fill="#000" stroke="#000">5</text>
<text x="178.15" y="532.4" font-size="7.8" font-weight="bold" text-anchor="middle" fill="#000" stroke="#000">qod</text>
<text x="193.9" y="521.6" font-size="7.9" font-weight="bold" text-anchor="middle" fill="#000" stroke="#000">5</text>
<text x="193.9" y="532.4" font-size="7.8" font-weight="bold" text-anchor="middle" fill="#000" stroke="#000">qd</text>
<text x="69.2" y="521.4" font-size="7.8" font-weight="bold" text-anchor="end" fill="#000" stroke="#000">Dose:</text>
<text x="69.2" y="532.4" font-size="7.8" font-weight="bold" text-anchor="end" fill="#000" stroke="#000">Frequency:</text>
<text x="97.6" y="551.6" font-size="7.9" font-weight="bold" text-anchor="start" fill="#000" stroke="#000">G-CSF Dose (<tspan>&#181;</tspan>g/kg)</text>
<rect x="130.7" y="416.2" width="10.8" height="5.6" fill="#fff" stroke="#000" stroke-width="1.4"/>
<rect x="130" y="427" width="12.2" height="6.8" fill="#000" stroke="none" stroke-width="1"/>
<text x="148" y="421.9" font-size="7.9" font-weight="bold" text-anchor="start" fill="#000" stroke="#000">CXCR4</text>
<text x="148" y="433.3" font-size="7.9" font-weight="bold" text-anchor="start" fill="#000" stroke="#000">ANC</text>
<text x="32.7" y="461" font-size="8.0" font-weight="bold" text-anchor="middle" fill="#000" stroke="#000" transform="rotate(-90 32.7 461)">PMN CXCR4 Expression</text>
<text x="41.3" y="460" font-size="8.0" font-weight="bold" text-anchor="middle" fill="#000" stroke="#000" transform="rotate(-90 41.3 460)">(% Max MFI)</text>
<text x="238.8" y="460.6" font-size="7.6" font-weight="bold" text-anchor="middle" fill="#000" stroke="#000" transform="rotate(90 238.8 460.6)">Neutrophils / &#181;l blood</text>
<line x1="333.3" y1="412.5" x2="333.3" y2="533.2" stroke="#000" stroke-width="2" stroke-linecap="butt"/>
<line x1="328.8" y1="532.2" x2="333.3" y2="532.2" stroke="#000" stroke-width="1.6" stroke-linecap="butt"/>
<text x="328.1" y="534.9000000000001" font-size="8.6" font-weight="bold" text-anchor="end" fill="#000" stroke="#000">0</text>
<line x1="328.8" y1="508.26000000000005" x2="333.3" y2="508.26000000000005" stroke="#000" stroke-width="1.6" stroke-linecap="butt"/>
<text x="328.1" y="510.96000000000004" font-size="8.6" font-weight="bold" text-anchor="end" fill="#000" stroke="#000">2000</text>
<line x1="328.8" y1="484.32000000000005" x2="333.3" y2="484.32000000000005" stroke="#000" stroke-width="1.6" stroke-linecap="butt"/>
<text x="328.1" y="487.02000000000004" font-size="8.6" font-weight="bold" text-anchor="end" fill="#000" stroke="#000">4000</text>
<line x1="328.8" y1="460.38000000000005" x2="333.3" y2="460.38000000000005" stroke="#000" stroke-width="1.6" stroke-linecap="butt"/>
<text x="328.1" y="463.08000000000004" font-size="8.6" font-weight="bold" text-anchor="end" fill="#000" stroke="#000">6000</text>
<line x1="328.8" y1="436.44000000000005" x2="333.3" y2="436.44000000000005" stroke="#000" stroke-width="1.6" stroke-linecap="butt"/>
<text x="328.1" y="439.14000000000004" font-size="8.6" font-weight="bold" text-anchor="end" fill="#000" stroke="#000">8000</text>
<line x1="328.8" y1="412.50000000000006" x2="333.3" y2="412.50000000000006" stroke="#000" stroke-width="1.6" stroke-linecap="butt"/>
<text x="328.1" y="415.20000000000005" font-size="8.6" font-weight="bold" text-anchor="end" fill="#000" stroke="#000">10000</text>
<line x1="328.5" y1="532.2" x2="513" y2="532.2" stroke="#000" stroke-width="2" stroke-linecap="butt"/>
<line x1="378.2" y1="532.2" x2="378.2" y2="536.7" stroke="#000" stroke-width="1.6" stroke-linecap="butt"/>
<line x1="467.6" y1="532.2" x2="467.6" y2="536.7" stroke="#000" stroke-width="1.6" stroke-linecap="butt"/>
<line x1="361.9" y1="519.3" x2="361.9" y2="517.6" stroke="#000" stroke-width="1.6" stroke-linecap="butt"/>
<line x1="356.15" y1="517.6" x2="367.65" y2="517.6" stroke="#000" stroke-width="1.6" stroke-linecap="butt"/>
<rect x="351.3" y="520.0999999999999" width="21.20000000000001" height="12.10000000000009" fill="#fff" stroke="#000" stroke-width="1.6"/>
<line x1="395.2" y1="522.5" x2="395.2" y2="520.8" stroke="#000" stroke-width="1.6" stroke-linecap="butt"/>
<line x1="389.45" y1="520.8" x2="400.95" y2="520.8" stroke="#000" stroke-width="1.6" stroke-linecap="butt"/>
<rect x="383.5" y="522.5" width="23.399999999999977" height="9.700000000000045" fill="#000" stroke="none" stroke-width="1"/>
<line x1="451.5" y1="428" x2="451.5" y2="420.5" stroke="#000" stroke-width="1.6" stroke-linecap="butt"/>
<line x1="445.25" y1="420.5" x2="457.75" y2="420.5" stroke="#000" stroke-width="1.6" stroke-linecap="butt"/>
<rect x="440.90000000000003" y="428.8" width="21.199999999999953" height="103.40000000000005" fill="#fff" stroke="#000" stroke-width="1.6"/>
<line x1="484.9" y1="435" x2="484.9" y2="421.8" stroke="#000" stroke-width="1.6" stroke-linecap="butt"/>
<line x1="478.65" y1="421.8" x2="491.15" y2="421.8" stroke="#000" stroke-width="1.6" stroke-linecap="butt"/>
<rect x="473" y="435" width="23.80000000000001" height="97.20000000000005" fill="#000" stroke="none" stroke-width="1"/>
<text x="450.7" y="414.6" font-size="8.5" font-weight="bold" text-anchor="middle" fill="#000" stroke="#000">*</text>
<text x="484.4" y="414.6" font-size="8.5" font-weight="bold" text-anchor="middle" fill="#000" stroke="#000">*</text>
<text stroke="#000" x="368.8" y="468.6" font-size="9.5" font-weight="bold">*<tspan font-style="italic">P</tspan>&lt;0.001</text>
<rect x="342.1" y="415.1" width="12.9" height="7.2" fill="#fff" stroke="#000" stroke-width="1.6"/>
<rect x="341.3" y="427.2" width="14.5" height="9.2" fill="#000" stroke="none" stroke-width="1"/>
<text x="362.5" y="422.2" font-size="9.35" font-weight="bold" text-anchor="start" fill="#000" stroke="#000">Controls (n=10)</text>
<text stroke="#000" x="362.5" y="435.6" font-size="9.35" font-weight="bold"><tspan font-style="italic">G6pc3</tspan><tspan dy="-3.4" font-size="6">-/-</tspan><tspan dy="3.4"> (n=10)</tspan></text>
<text x="378.2" y="545.8" font-size="9.1" font-weight="bold" text-anchor="middle" fill="#000" stroke="#000">Before AMD3100</text>
<text x="467.6" y="545.8" font-size="9.05" font-weight="bold" text-anchor="middle" fill="#000" stroke="#000">After AMD3100</text>
<text x="299.4" y="471.6" font-size="9.35" font-weight="bold" text-anchor="middle" fill="#000" stroke="#000" transform="rotate(-90 299.4 471.6)">Neutrophils / &#181;l blood</text>
</svg>
</body></html>
